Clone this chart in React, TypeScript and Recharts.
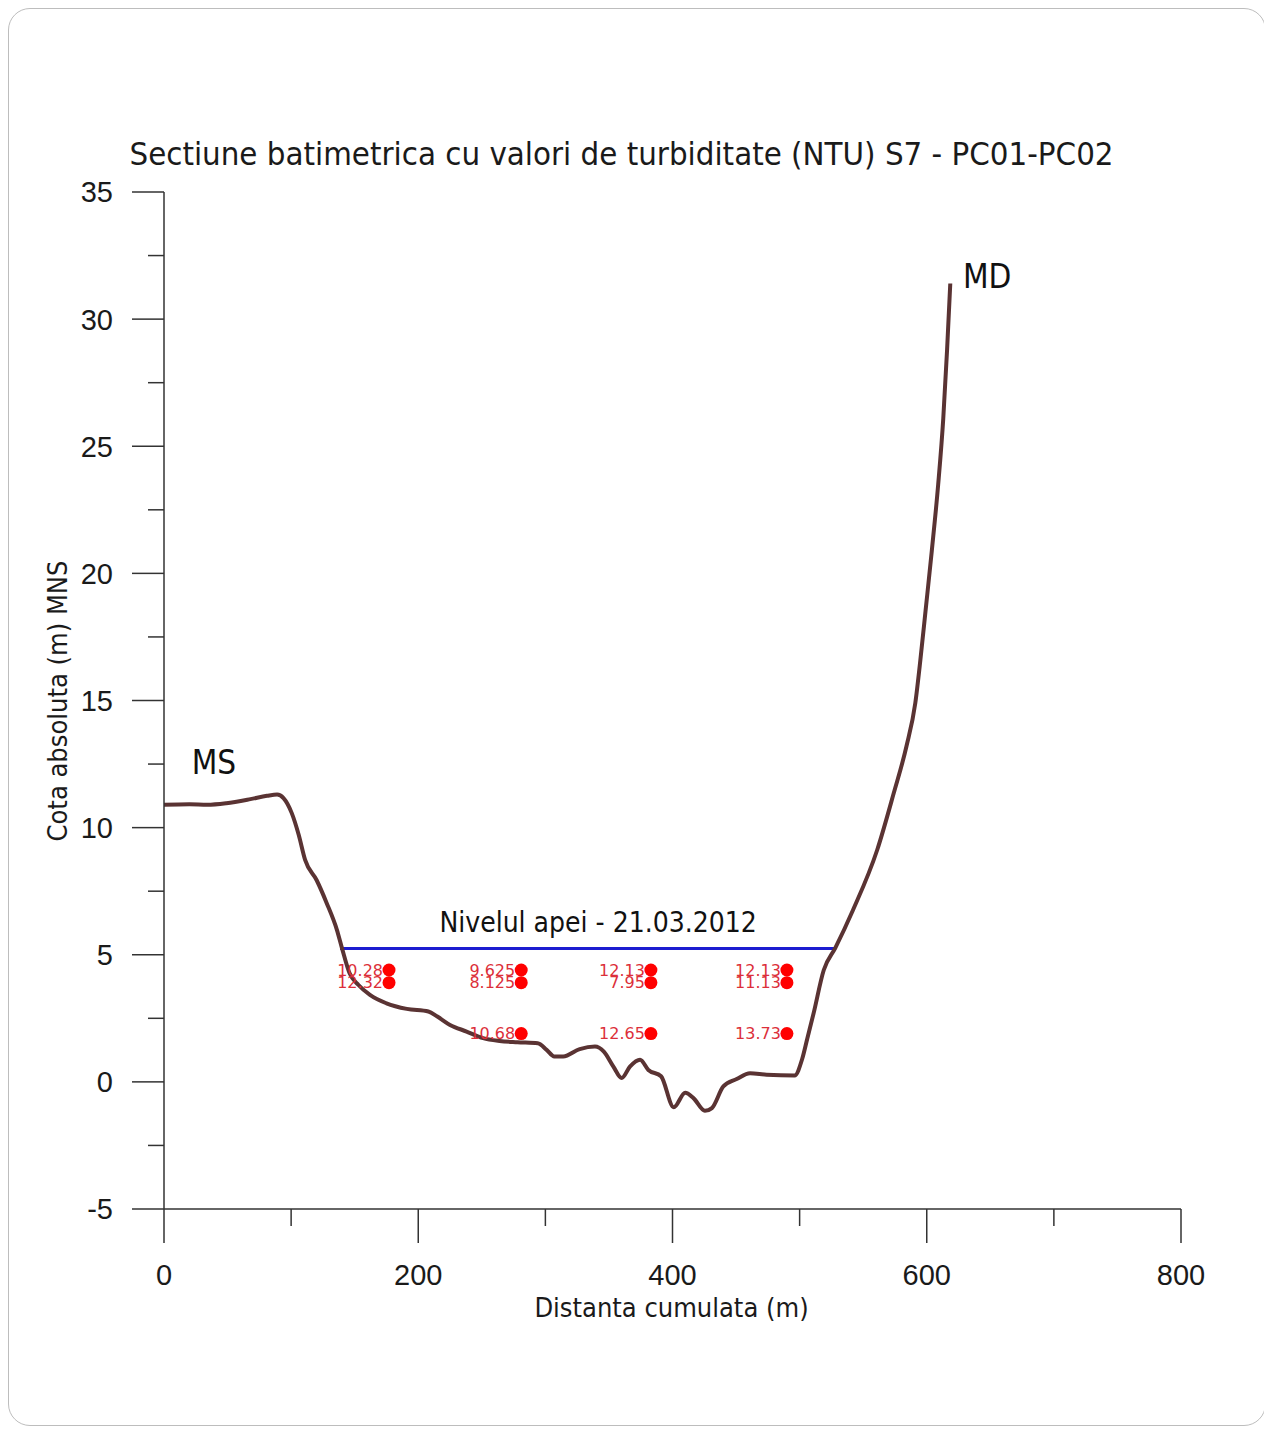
import React from 'react';
import { ComposedChart, Line, Scatter, XAxis, YAxis, ReferenceDot, Label } from 'recharts';

// bed profile (distance m / elevation m MNS)
const bedDistance = [
  0, 20, 34, 49, 68, 81, 89, 94, 100.5, 106, 111, 120, 128, 136, 140, 146, 153, 162, 175, 191,
  208, 215, 225, 238, 251, 264, 278, 294, 301, 307, 314, 327, 339, 346, 353.5, 360, 366.5, 374.5,
  381, 391, 401, 410, 416.5, 425.5, 431, 440, 450.5, 461, 474, 496, 502, 506, 511, 519, 528, 542,
  561, 574, 584, 591, 595, 599, 604, 609, 613, 616, 618.5,
];
const bedElevation = [
  10.9, 10.92, 10.9, 10.96, 11.12, 11.25, 11.3, 11.16, 10.57, 9.71, 8.73, 7.94, 7.03, 5.98, 5.26,
  4.27, 3.81, 3.42, 3.09, 2.87, 2.77, 2.57, 2.24, 1.98, 1.72, 1.61, 1.56, 1.52, 1.26, 1.0, 1.0,
  1.29, 1.39, 1.19, 0.6, 0.15, 0.6, 0.87, 0.47, 0.22, -1.0, -0.43, -0.64, -1.14, -1.03, -0.18, 0.11,
  0.34, 0.28, 0.25, 0.9, 1.7, 2.7, 4.4, 5.26, 6.76, 9.12, 11.35, 13.19, 14.9, 16.6, 18.5, 20.9,
  23.5, 26.1, 28.8, 31.4,
];

// water level 21.03.2012
const waterDistance = [138.5, 528];
const waterLevel = 5.25;

// turbidity samples (NTU)
const sampleDistance = [177, 281, 383, 490];
const upperElevation = 4.4;
const upperNtu = ['10.28', '9.625', '12.13', '12.13'];
const middleElevation = 3.9;
const middleNtu = ['12.32', '8.125', '7.95', '11.13'];
const lowerElevation = 1.9;
const lowerNtu = [null, '10.68', '12.65', '13.73'];

const xTicks = [0, 100, 200, 300, 400, 500, 600, 700, 800];
const yTicks = [-5, -2.5, 0, 2.5, 5, 7.5, 10, 12.5, 15, 17.5, 20, 22.5, 25, 27.5, 30, 32.5, 35];

const bedData = bedDistance.map((d, i) => ({ d, e: bedElevation[i] }));
const waterData = waterDistance.map((d) => ({ d, e: waterLevel }));
const samples = [
  ...sampleDistance.map((d, i) => ({ d, e: upperElevation, ntu: upperNtu[i] })),
  ...sampleDistance.map((d, i) => ({ d, e: middleElevation, ntu: middleNtu[i] })),
  ...sampleDistance
    .map((d, i) => ({ d, e: lowerElevation, ntu: lowerNtu[i] }))
    .filter((s) => s.ntu !== null),
];

const condensed = "'DejaVu Sans Condensed', 'DejaVu Sans', sans-serif";
const tickFont = "'Liberation Sans', Arial, sans-serif";
const axisColor = '#333';

const XTick = ({ x, y, payload }: any) => {
  const major = payload.value % 200 === 0;
  return (
    <g>
      <line x1={x} x2={x} y1={y} y2={y + (major ? 34 : 17)} stroke={axisColor} strokeWidth={1.5} />
      {major && (
        <text x={x} y={y + 76} textAnchor="middle" fontSize={29} fontFamily={tickFont} fill="#1a1a1a">
          {payload.value}
        </text>
      )}
    </g>
  );
};

const YTick = ({ x, y, payload }: any) => {
  const major = payload.value % 5 === 0;
  return (
    <g>
      <line x1={x - (major ? 32 : 16)} x2={x} y1={y} y2={y} stroke={axisColor} strokeWidth={1.5} />
      {major && (
        <text x={x - 51} y={y} dy="0.36em" textAnchor="end" fontSize={29} fontFamily={tickFont} fill="#1a1a1a">
          {payload.value}
        </text>
      )}
    </g>
  );
};

const SampleDot = ({ cx, cy, payload }: any) => (
  <g>
    <circle cx={cx} cy={cy} r={6.5} fill="#ff0000" />
    <text
      x={cx - 6}
      y={cy}
      dy="0.36em"
      textAnchor="end"
      fontSize={16}
      fontFamily="'DejaVu Sans', sans-serif"
      fill="#dc2f3a"
    >
      {payload.ntu}
    </text>
  </g>
);

export default function App() {
  return (
    <div
      style={{
        position: 'relative',
        width: 1258,
        height: 1418,
        boxSizing: 'border-box',
        border: '1.5px solid #bdbdbd',
        borderRadius: 22,
        background: '#fff',
      }}
    >
      <div style={{ position: 'absolute', left: -9, top: -9 }}>
        <ComposedChart width={1272} height={1429} margin={{ top: 192, right: 91, bottom: 160, left: 104 }}>
          <XAxis
            type="number"
            dataKey="d"
            domain={[0, 800]}
            ticks={xTicks}
            interval={0}
            height={60}
            tickSize={0}
            tickMargin={0}
            tickLine={false}
            tick={<XTick />}
            axisLine={{ stroke: axisColor, strokeWidth: 1.5 }}
          />
          <YAxis
            type="number"
            dataKey="e"
            domain={[-5, 35]}
            ticks={yTicks}
            interval={0}
            width={60}
            tickSize={0}
            tickMargin={0}
            tickLine={false}
            tick={<YTick />}
            axisLine={{ stroke: axisColor, strokeWidth: 1.5 }}
          />
          <Line
            data={waterData}
            dataKey="e"
            stroke="#1c1cd0"
            strokeWidth={3}
            dot={false}
            activeDot={false}
            isAnimationActive={false}
          />
          <Line
            data={bedData}
            dataKey="e"
            type="monotone"
            stroke="#5a3333"
            strokeWidth={4}
            dot={false}
            activeDot={false}
            isAnimationActive={false}
          />
          <Scatter data={samples} dataKey="e" shape={<SampleDot />} isAnimationActive={false} />
          <ReferenceDot x={39.3} y={12.58} r={0} fill="none" stroke="none">
            <Label value="MS" position="center" fontSize={33} fontFamily={condensed} fill="#111" />
          </ReferenceDot>
          <ReferenceDot x={647.5} y={31.7} r={0} fill="none" stroke="none">
            <Label value="MD" position="center" fontSize={33} fontFamily={condensed} fill="#111" />
          </ReferenceDot>
          <ReferenceDot x={341.5} y={6.29} r={0} fill="none" stroke="none">
            <Label
              value="Nivelul apei - 21.03.2012"
              position="center"
              fontSize={28}
              fontFamily={condensed}
              fill="#111"
            />
          </ReferenceDot>
        </ComposedChart>
        <svg
          width={1272}
          height={1429}
          style={{ position: 'absolute', left: 0, top: 0, pointerEvents: 'none' }}
        >
          <text x={621.5} y={165} textAnchor="middle" fontSize={32.7} fontFamily={condensed} fill="#1a1a1a">
            Sectiune batimetrica cu valori de turbiditate (NTU) S7 - PC01-PC02
          </text>
          <text x={671.5} y={1317} textAnchor="middle" fontSize={27} fontFamily={condensed} fill="#1a1a1a">
            Distanta cumulata (m)
          </text>
          <text
            x={57}
            y={701}
            dy="0.36em"
            textAnchor="middle"
            fontSize={27}
            fontFamily={condensed}
            fill="#1a1a1a"
            transform="rotate(-90, 57, 701)"
          >
            Cota absoluta (m) MNS
          </text>
        </svg>
      </div>
    </div>
  );
}
